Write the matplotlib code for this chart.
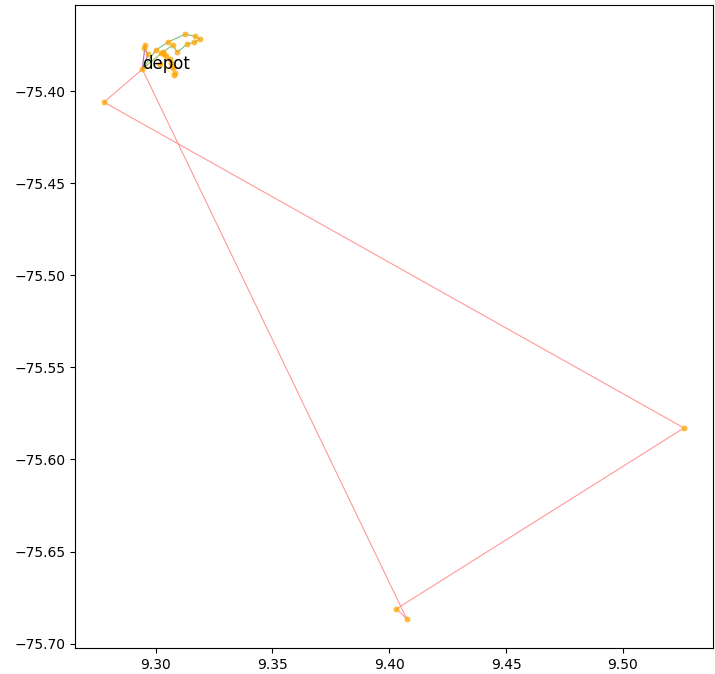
import matplotlib
matplotlib.use('Agg')
import matplotlib.pyplot as plt

depot = (9.2943, -75.3881)

# routes (depot -> stops -> depot)
route_red_x = [9.2779, 9.5262, 9.4031, 9.4075]
route_red_y = [-75.4060, -75.5829, -75.6811, -75.6865]

route_green_x = [9.3001, 9.3052, 9.3127, 9.3169, 9.3190, 9.3165, 9.3135, 9.3093, 9.3073, 9.3031]
route_green_y = [-75.3778, -75.3734, -75.3691, -75.3702, -75.3718, -75.3734, -75.3745, -75.3788, -75.3750, -75.3788]

route_purple_x = [9.2955, 9.2951, 9.2968]
route_purple_y = [-75.3750, -75.3767, -75.3799]

route_gold_x = [9.3022, 9.3035, 9.3043, 9.3060, 9.3064, 9.3070, 9.3073, 9.3085, 9.3077, 9.3018]
route_gold_y = [-75.3794, -75.3800, -75.3810, -75.3826, -75.3848, -75.3862, -75.3875, -75.3902, -75.3913, -75.3854]

routes = [
    (route_red_x, route_red_y, 'red', 0.4),
    (route_green_x, route_green_y, 'green', 0.5),
    (route_purple_x, route_purple_y, 'purple', 0.6),
    (route_gold_x, route_gold_y, 'gold', 0.4),
]

fig = plt.figure(figsize=(7.15, 6.74), dpi=100)
ax = fig.add_axes([75/715, 26/674, 638/715, 643/674])

for xs, ys, col, a in routes:
    px = [depot[0]] + xs + [depot[0]]
    py = [depot[1]] + ys + [depot[1]]
    ax.plot(px, py, color=col, lw=0.8, alpha=a, zorder=1)
    ax.scatter(xs, ys, s=18, color='orange', alpha=0.75, lw=0, zorder=2)

ax.scatter([depot[0]], [depot[1]], s=18, color='orange', alpha=0.75, lw=0, zorder=2)
ax.text(depot[0], depot[1], 'depot', fontsize=12)

fig.savefig('out.png', dpi=100)
